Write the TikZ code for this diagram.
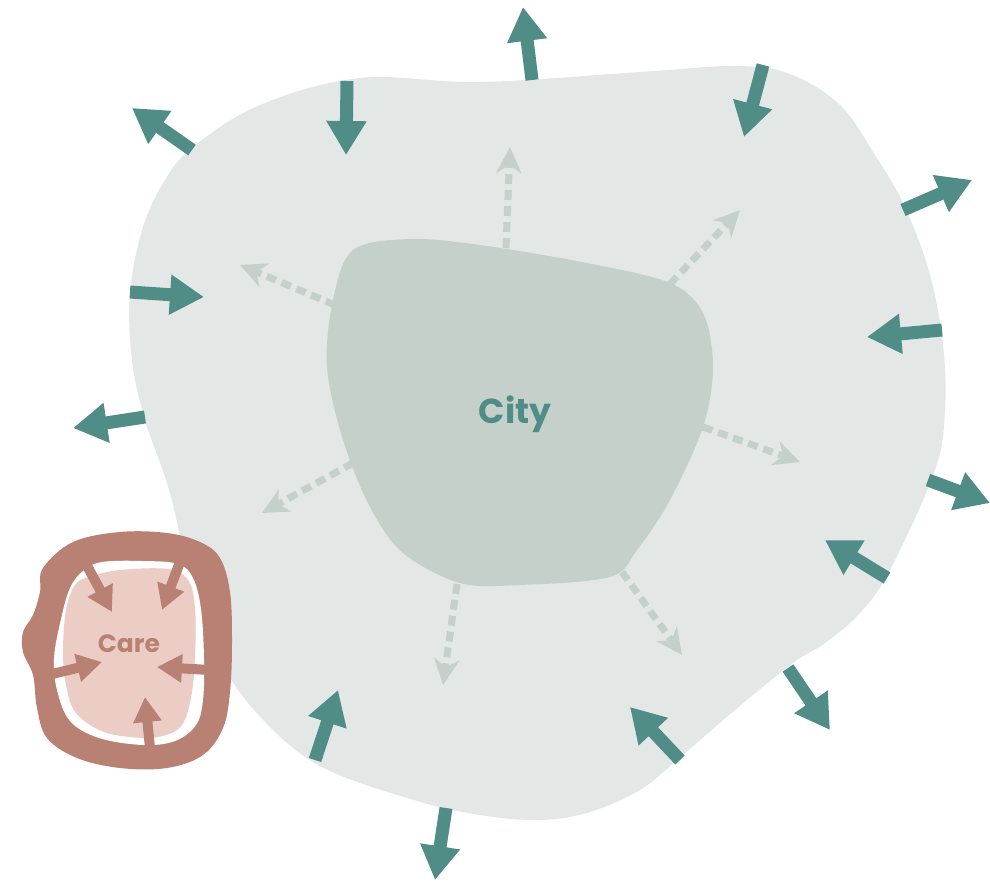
\documentclass[tikz,border=0pt]{standalone}
\usepackage{fontspec}
\setmainfont{Poppins}
\usepackage{tikz}
\usetikzlibrary{arrows.meta}
\definecolor{region}{HTML}{E3E8E6}
\definecolor{citycol}{HTML}{C5D0CA}
\definecolor{teal}{HTML}{508D86}
\definecolor{caredark}{HTML}{B98173}
\definecolor{carelight}{HTML}{ECCDC5}

\begin{document}
\begin{tikzpicture}[x=0.5pt, y=-0.5pt,
    push/.style={teal, line width=6.5pt, -{Triangle[width=19pt,length=17pt]}},
    spread/.style={citycol, line width=3.5pt, dash pattern=on 5pt off 3pt, -{Stealth[width=12.5pt,length=13pt,inset=4pt]}},
    pull/.style={caredark, line width=5pt, -{Triangle[width=13.5pt,length=12.5pt]}}]
    \useasboundingbox (0, 0) rectangle (990, 883);
    \fill[region] plot[smooth cycle, tension=0.6] coordinates {(360,78) (480,82) (640,72) (735,66) (790,74) (840,105) (875,155) (905,207) (930,275) (943,345) (945,410) (935,470) (890,570) (860,613) (825,643) (793,663) (735,710) (677,760) (640,790) (590,812) (540,820) (480,815) (414,800) (318,765) (254,710) (215,650) (190,580) (170,493) (145,420) (132,360) (130,293) (143,227) (165,180) (193,147) (260,105)};
    \foreach \sx/\sy/\ex/\ey in {506/248/510/147, 670/284/740/210, 335/305/240/265, 703/427/800/462, 353/463/262/513, 457/584/443/685, 622/572/682/655}
        \draw[spread] (\sx, \sy) -- (\ex, \ey);
    \fill[citycol] plot[smooth cycle, tension=0.55] coordinates {(353,250) (410,239) (480,245) (587,263) (670,283) (703,313) (713,367) (703,427) (670,500) (637,550) (610,577) (520,585) (460,583) (403,553) (370,507) (343,440) (327,367) (333,300)};
    \foreach \sx/\sy/\ex/\ey in {532/80/523/7, 763/65/744/137, 347/81/346/155, 192/150/132/108, 130/292/204/297, 145/417/73/428, 903/210/972/180, 942/330/867/337, 928/480/990/503, 887/578/825/540, 788/668/830/730, 680/760/630/707, 446/808/435/880, 315/760/338/690}
        \draw[push] (\sx, \sy) -- (\ex, \ey);
    \fill[caredark] plot[smooth cycle, tension=0.6] coordinates {(43,568) (73,542) (120,532) (167,533) (200,542) (220,558) (230,592) (232,642) (230,692) (223,728) (203,755) (167,768) (120,768) (77,758) (47,738) (37,708) (33,675) (23,652) (23,632) (33,615) (40,592)};
    \fill[white] plot[smooth cycle, tension=0.6] coordinates {(83,571) (102,562) (143,561) (178,564) (193,578) (201,609) (204,658) (203,700) (196,725) (175,741) (143,745) (99,738) (70,721) (57,690) (54,658) (61,619) (70,588)};
    \fill[carelight] plot[smooth cycle, tension=0.6] coordinates {(89,577) (120,570) (168,569) (188,580) (195,608) (195,658) (191,698) (182,725) (166,735) (143,738) (104,732) (76,713) (66,685) (63,652) (66,610) (75,585)};
    \foreach \sx/\sy/\ex/\ey in {85/562/112/612, 180/562/162/610, 48/675/102/662, 210/670/157/667, 150/748/145/697}
        \draw[pull] (\sx, \sy) -- (\ex, \ey);
    \node[anchor=base, text=teal, font=\fontsize{17.3}{17.3}\selectfont\bfseries] (city) at (515, 423) {City};
    \node[anchor=base, text=caredark, font=\fontsize{12.5}{12.5}\selectfont\bfseries] (care) at (129, 652) {Care};
\end{tikzpicture}
\end{document}
